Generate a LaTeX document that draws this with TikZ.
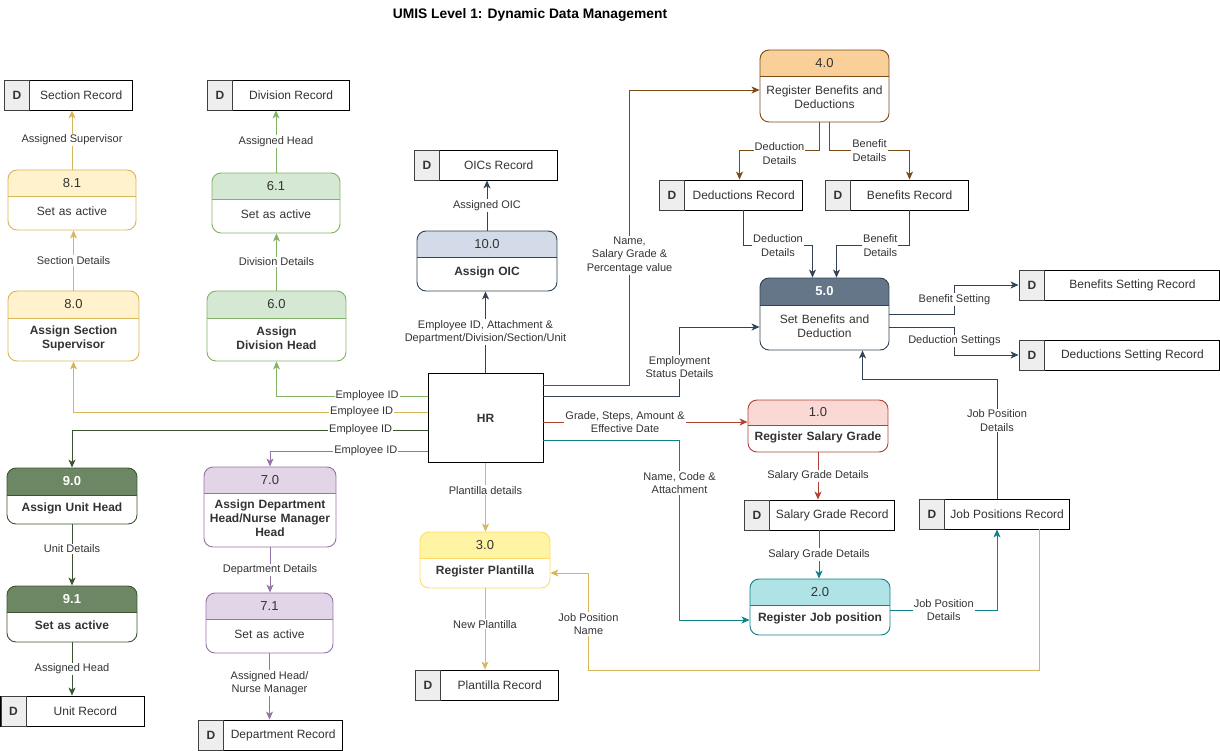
\documentclass[tikz,border=0pt]{standalone}
\usepackage{fontspec}
\setmainfont{Liberation Sans}
\usetikzlibrary{arrows.meta,calc}

\definecolor{txt}{HTML}{333333}
\definecolor{dcell}{HTML}{EEEEEE}
\definecolor{yS}{HTML}{D6B656} \definecolor{yF}{HTML}{FFF2CC}
\definecolor{gS}{HTML}{82B366} \definecolor{gF}{HTML}{D5E8D4}
\definecolor{dgS}{HTML}{3A5431} \definecolor{dgF}{HTML}{6D8764}
\definecolor{pS}{HTML}{9673A6} \definecolor{pF}{HTML}{E1D5E7}
\definecolor{bS}{HTML}{314354} \definecolor{bF}{HTML}{D4DBE8}
\definecolor{sS}{HTML}{314354} \definecolor{sF}{HTML}{647687}
\definecolor{oS}{HTML}{7A4A14} \definecolor{oF}{HTML}{FAD09A}
\definecolor{rS}{HTML}{AE4132} \definecolor{rF}{HTML}{FAD9D5}
\definecolor{tS}{HTML}{0E8088} \definecolor{tF}{HTML}{B0E3E6}
\definecolor{lS}{HTML}{FFD966} \definecolor{lF}{HTML}{FFF4A3}

\tikzset{
  flow/.style={draw=#1, line width=0.9pt, -{Stealth[length=8pt,width=7pt,inset=2.2pt]}},
  lbl/.style={fill=white, inner sep=1pt, align=center, text=txt, font=\fontsize{11}{13.5}\selectfont},
}

\newcommand{\proc}[9]{%
  \pgfmathsetmacro\myW{#4-#2}\pgfmathsetmacro\myH{#5-#3}%
  \pgfmathsetmacro\myCX{(#2+#4)/2}\pgfmathsetmacro\myCY{(#3+#5)/2}%
  \pgfmathsetmacro\myBY{(#3+#6+#5)/2-1.5}\pgfmathsetmacro\myHY{#3+#6/2}%
  \pgfmathsetmacro\myTW{#4-#2-6}%
  \node[draw=#7S, line width=0.9pt, rounded corners=9pt, minimum width=\myW pt, minimum height=\myH pt, inner sep=0pt,
    path picture={\fill[#7F, sharp corners] (path picture bounding box.north west) rectangle ([yshift=-#6pt]path picture bounding box.north east);
      \draw[#7S, line width=0.9pt, sharp corners] ([yshift=-#6pt]path picture bounding box.north west) -- ([yshift=-#6pt]path picture bounding box.north east);}]
    (#1) at (\myCX,\myCY) {};
  \node[font=\fontsize{13}{15}\selectfont, text=txt] (#1H) at (\myCX,\myHY) {#8};
  \node[font=\fontsize{12}{14}\selectfont, text=txt, text width=\myTW pt, align=center, inner sep=0pt] (#1B) at (\myCX,\myBY) {#9};
}

\newcommand{\dstore}[6]{%
  \pgfmathsetmacro\myW{#4-#2}\pgfmathsetmacro\myH{#5-#3}%
  \pgfmathsetmacro\myCX{(#2+#4)/2}\pgfmathsetmacro\myCY{(#3+#5)/2}%
  \node[draw=black, line width=0.9pt, fill=white, minimum width=\myW pt, minimum height=\myH pt, inner sep=0pt] (#1) at (\myCX,\myCY) {};
  \node[draw=black!75, fill=dcell, line width=0.9pt, minimum width=25pt, minimum height=\myH pt, inner sep=0pt, anchor=north west,
    font=\bfseries\fontsize{12}{14}\selectfont, text=txt] (#1D) at (#2,#3) {D};
  \node[font=\fontsize{12}{14}\selectfont, text=txt] (#1T) at ($(#1D.east)!0.5!(#1.east)$) {#6};
}

\begin{document}
\begin{tikzpicture}[x=1pt,y=-1pt]
\useasboundingbox (0,0) rectangle (1220,751);

\node[font=\bfseries\fontsize{13.8}{16}\selectfont, text=black] (title) at (530,15) {UMIS Level 1: Dynamic Data Management};

% data stores
\dstore{SecR}{4}{80}{132}{110}{Section Record}
\dstore{DivR}{207}{80}{349}{110}{Division Record}
\dstore{OIC}{414}{150}{557}{180}{OICs Record}
\dstore{DR}{659}{180}{802}{210}{Deductions Record}
\dstore{BR}{825}{180}{968}{210}{Benefits Record}
\dstore{BSR}{1019}{270}{1219.5}{300}{Benefits Setting Record}
\dstore{DSR}{1019}{340}{1219.5}{370}{Deductions Setting Record}
\dstore{SGR}{744}{500}{894}{530}{Salary Grade Record}
\dstore{JPR}{919}{499}{1069}{529}{Job Positions Record}
\dstore{PR}{415}{670}{558}{700}{Plantilla Record}
\dstore{UR}{0.5}{696}{144}{726}{Unit Record}
\dstore{DepR}{198}{720}{342}{750}{Department Record}

% processes
\proc{P81}{8}{170}{136}{230}{26}{y}{8.1}{Set as active}
\proc{P80}{8}{291}{139}{361}{27}{y}{8.0}{\bfseries Assign Section\\Supervisor}
\proc{P61}{212}{173}{340}{233}{26}{g}{6.1}{Set as active}
\proc{P60}{207}{291}{346}{361}{27}{g}{6.0}{\bfseries Assign\\Division Head}
\proc{P100}{417}{231}{557}{291}{26}{b}{10.0}{\bfseries Assign OIC}
\proc{P40}{760}{50}{889}{122}{26}{o}{4.0}{Register Benefits and\\Deductions}
\proc{P50}{760}{278}{889}{350}{27}{s}{\color{white}\bfseries 5.0}{Set Benefits and\\Deduction}
\proc{P10}{748}{400}{888}{452}{25}{r}{1.0}{\bfseries Register Salary Grade}
\proc{P20}{750}{579}{890}{635}{26}{t}{2.0}{\bfseries Register Job position}
\proc{P30}{420}{532}{550}{588}{26}{l}{3.0}{\bfseries Register Plantilla}
\proc{P90}{7}{468}{137}{524}{27}{dg}{\color{white}\bfseries 9.0}{\bfseries Assign Unit Head}
\proc{P91}{7}{586}{137}{642}{26}{dg}{\color{white}\bfseries 9.1}{\bfseries Set as active}
\proc{P70}{204}{467}{336}{547}{26}{p}{7.0}{\bfseries Assign Department\\Head/Nurse Manager\\Head}
\proc{P71}{206}{593}{333}{653}{26}{p}{7.1}{Set as active}

% HR
\node[draw=black, line width=0.9pt, minimum width=115pt, minimum height=89pt, inner sep=0pt,
  font=\bfseries\fontsize{12}{14}\selectfont, text=txt] (HR) at (485.5,418) {HR};

% left side flows
\draw[flow=yS] (P81.north) -- node[lbl]{Assigned Supervisor} (P81.north |- SecR.south);
\draw[flow=yS] (P80.north) -- node[lbl]{Section Details} (P80.north |- P81.south);
\draw[flow=gS] (P61.north) -- node[lbl]{Assigned Head} (P61.north |- DivR.south);
\draw[flow=gS] (P60.north) -- node[lbl]{Division Details} (P60.north |- P61.south);
\draw[flow=gS] ([yshift=22pt]HR.west) -| node[lbl,pos=0.2]{Employee ID} (P60.south);
\draw[flow=yS] ([yshift=6pt]HR.west) -| node[lbl,pos=0.093]{Employee ID} (P80.south);
\draw[flow=dgS] ([yshift=-12pt]HR.west) -| node[lbl,pos=0.094]{Employee ID} (P90.north);
\draw[flow=pS] ([yshift=-33pt]HR.west) -| node[lbl,pos=0.196]{Employee ID} (P70.north);
\draw[flow=dgS] (P90.south) -- node[lbl,pos=0.4]{Unit Details} (P90.south |- P91.north);
\draw[flow=dgS] (P91.south) -- node[lbl]{Assigned Head} (P91.south |- UR.north);
\draw[flow=pS] (P70.south) -- node[lbl]{Department Details} (P70.south |- P71.north);
\draw[flow=pS] (P71.south) -- node[lbl,pos=0.45]{Assigned Head/\\Nurse Manager} (P71.south |- DepR.north);

% centre
\draw[flow=bS] (HR.north) -- node[lbl]{Employee ID, Attachment \&\\Department/Division/Section/Unit} (HR.north |- P100.south);
\draw[flow=bS] (P100.north) -- node[lbl]{Assigned OIC} (P100.north |- OIC.south);

% benefits and deductions
\draw[flow=oS] ([yshift=33pt]HR.east) -| node[lbl,pos=0.72]{Name,\\Salary Grade \&\\Percentage value} ($([yshift=-4pt]P40.west)+(-130,0)$) -- ([yshift=-4pt]P40.west);
\draw[flow=oS] ([xshift=-5pt]P40.south) -- ++(0,28) -| node[lbl,pos=0.25,yshift=-3pt]{Deduction\\Details} ([xshift=9pt]DR.north);
\draw[flow=oS] ([xshift=5pt]P40.south) -- ++(0,28) -| node[lbl,pos=0.25]{Benefit\\Details} ([xshift=13pt]BR.north);
\draw[flow=sS] ([xshift=13pt]DR.south) -- ++(0,35) -| node[lbl,pos=0.25]{Deduction\\Details} ([xshift=-12pt]P50.north);
\draw[flow=sS] ([xshift=13pt]BR.south) -- ++(0,35) -| node[lbl,pos=0.2]{Benefit\\Details} ([xshift=12pt]P50.north);
\draw[flow=sS] ([yshift=22pt]HR.east) -| node[lbl,pos=0.71]{Employment\\Status Details} ($([yshift=-13pt]P50.west)+(-80,0)$) -- ([yshift=-13pt]P50.west);
\draw[flow=sS] (P50.east) -- ++(65,0) |- node[lbl,pos=0.25]{Benefit Setting} (BSR.west);
\draw[flow=sS] ([yshift=-13pt]P50.east) -- ++(65,0) |- node[lbl,pos=0.25]{Deduction Settings} (DSR.west);
\draw[flow=sS] ([xshift=3pt]JPR.north) -- node[lbl,pos=0.655]{Job Position\\Details} ++(0,-119) -| ([xshift=38pt]P50.south);

% salary grade and job position
\draw[flow=rS] ([yshift=-4pt]HR.east) -- node[lbl,pos=0.4]{Grade, Steps, Amount \&\\Effective Date} ([yshift=4pt]P10.west);
\draw[flow=rS] (P10.south) -- node[lbl]{Salary Grade Details} (P10.south |- SGR.north);
\draw[flow=tS] (SGR.south) -- node[lbl]{Salary Grade Details} (SGR.south |- P20.north);
\draw[flow=tS] ([yshift=-22pt]HR.east) -| node[lbl,pos=0.62]{Name, Code \&\\Attachment} ($([yshift=-13pt]P20.west)+(-70,0)$) -- ([yshift=-13pt]P20.west);
\draw[flow=tS] ([yshift=-3pt]P20.east) -| node[lbl,pos=0.25]{Job Position\\Details} ([xshift=3pt]JPR.south);

% plantilla
\draw[flow=yS] (HR.south) -- node[lbl,pos=0.4]{Plantilla details} (HR.south |- P30.north);
\draw[flow=yS] (P30.south) -- node[lbl,pos=0.44]{New Plantilla} (P30.south |- PR.north);
\draw[flow=yS] ([xshift=45pt]JPR.south) -- ++(0,141) -| node[lbl,pos=0.737]{Job Position\\Name} ($([yshift=-13pt]P30.east)+(38,0)$) -- ([yshift=-13pt]P30.east);

\end{tikzpicture}
\end{document}
